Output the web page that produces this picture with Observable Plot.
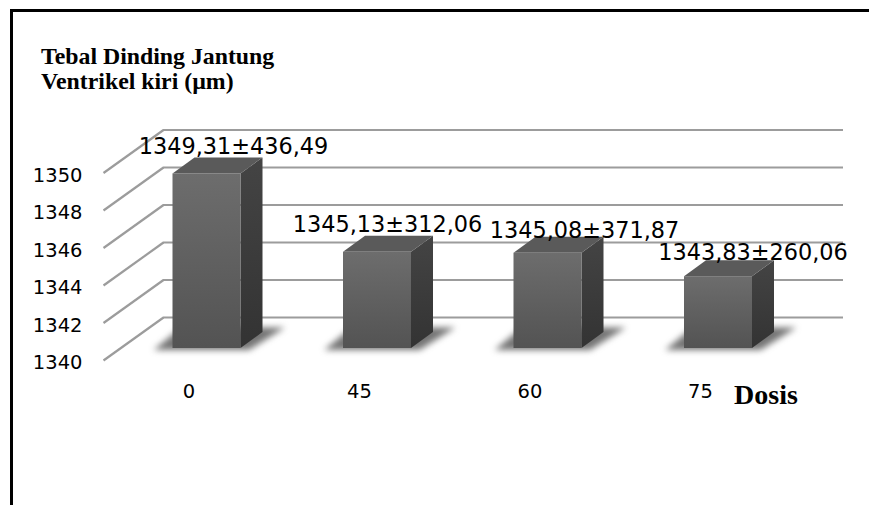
<!DOCTYPE html>
<html><head><meta charset="utf-8">
<script src="https://cdn.jsdelivr.net/npm/d3@7"></script>
<script src="https://cdn.jsdelivr.net/npm/@observablehq/plot@0.6"></script>
<style>
body{margin:0;background:#fff;}
#wrap{position:relative;width:869px;height:505px;overflow:hidden;background:#fff;}
#frame{position:absolute;left:10px;top:9px;width:880px;height:520px;border-top:3px solid #000;border-left:3px solid #000;}
#title{position:absolute;left:41px;top:44px;font-family:"Liberation Serif","Times New Roman",serif;font-weight:bold;font-size:23.8px;line-height:25px;color:#000;white-space:nowrap;}
#chart{position:absolute;left:0;top:0;}
</style></head><body>
<div id="wrap"><div id="frame"></div><div id="chart"></div><div id="title">Tebal Dinding Jantung<br>Ventrikel kiri (µm)</div></div>
<script>
// ---- data ----
const dosis = ["0", "45", "60", "75"];
const means = [1349.31, 1345.13, 1345.08, 1343.83];
const sds = [436.49, 312.06, 371.87, 260.06];
const yTicks = [1340, 1342, 1344, 1346, 1348, 1350];
const xTitle = "Dosis";

// ---- layout (pixel geometry of the pseudo-3D chart) ----
const X0 = 206.5, X3 = 718, Y0 = 348, Y10 = 160.5;
const PX = (X3 - X0) / 3, PY = (Y0 - Y10) / 10;
const hw = 34 / PX;                 // half bar width
const DX = 22 / PX, DY = 16 / PY;   // bar depth
const FX = -16.7 / PX, FY = -12 / PY;  // front wall plane
const BX = 43.3 / PX, BY = 31 / PY;    // back wall plane
const L = (119.7 - X0) / PX, R = (799.7 - X0) / PX;
const labelNudge = [[26.5, 20.4], [10, 20.8], [36.5, 15.1], [34.5, 16.2]];

const fmt = v => v.toFixed(2).replace(".", ",");
const bars = means.map((v, i) => ({i, v, dose: dosis[i], label: fmt(v) + "±" + fmt(sds[i])}));
const base = 1340;

const sidePts = bars.flatMap(d => [
  {bar: d.i, x: d.i + hw, y1: base, y2: d.v},
  {bar: d.i, x: d.i + hw + DX, y1: base + DY, y2: d.v + DY}
]);
const topPts = bars.flatMap(d => [
  {bar: d.i, y: d.v, x1: d.i - hw, x2: d.i + hw},
  {bar: d.i, y: d.v + DY, x1: d.i - hw + DX, x2: d.i + hw + DX}
]);
const shadowPts = bars.flatMap(d => [
  {bar: d.i, y: base - 0.1, x1: d.i - hw - 0.11, x2: d.i + hw + 0.05},
  {bar: d.i, y: base + 1.1, x1: d.i - hw + 0.05, x2: d.i + hw + 0.26}
]);

const plot = Plot.plot({
  width: 869, height: 505, margin: 0,
  style: {background: "transparent", fontFamily: "DejaVu Sans", color: "#000"},
  x: {type: "linear", domain: [0, 3], range: [X0, X3], axis: null},
  y: {type: "linear", domain: [1340, 1350], range: [Y0, Y10], axis: null},
  marks: [
    Plot.areaX(shadowPts, {y: "y", x1: "x1", x2: "x2", z: "bar", fill: "#464646", fillOpacity: 0.75}),
    Plot.ruleY(yTicks, {y: t => t + BY, x1: () => L + BX, x2: () => R + BX, stroke: "#9c9c9c", strokeWidth: 2.2}),
    Plot.link(yTicks, {x1: () => L + FX, y1: t => t + FY, x2: () => L + BX, y2: t => t + BY, stroke: "#9c9c9c", strokeWidth: 2.2}),
    Plot.areaY(sidePts, {x: "x", y1: "y1", y2: "y2", z: "bar", fill: "url(#gSide)"}),
    Plot.areaX(topPts, {y: "y", x1: "x1", x2: "x2", z: "bar", fill: "#5a5a5a"}),
    Plot.rect(bars, {x1: d => d.i - hw, x2: d => d.i + hw, y1: () => base, y2: d => d.v, fill: "url(#gFront)"}),
    Plot.text(yTicks, {x: () => L + FX, y: t => t + FY, text: t => String(t), textAnchor: "end", dx: -21, dy: 2.5, fontSize: 19.5, fill: "#000"}),
    Plot.text(bars, {x: "i", y: () => base, text: "dose", dx: -18, dy: 43.5, fontSize: 19.5, fill: "#000"}),
    Plot.text([xTitle], {x: () => 3, y: () => base, text: d => d, dx: 47.5, dy: 55, lineAnchor: "bottom", fontFamily: "Liberation Serif", fontWeight: "bold", fontSize: 28, fill: "#000"}),
    Plot.text(bars, {x: d => d.i + labelNudge[d.i][0] / PX, y: d => d.v + labelNudge[d.i][1] / PY, text: "label", lineAnchor: "bottom", fontSize: 22.4, fill: "#000"})
  ]
});

const svg = d3.select(plot);
const defs = svg.insert("defs", ":first-child");
const gf = defs.append("linearGradient").attr("id", "gFront").attr("x1", 0).attr("y1", 0).attr("x2", 0).attr("y2", 1);
gf.append("stop").attr("offset", "0%").attr("stop-color", "#6d6d6d");
gf.append("stop").attr("offset", "100%").attr("stop-color", "#535353");
const gs = defs.append("linearGradient").attr("id", "gSide").attr("x1", 0).attr("y1", 0).attr("x2", 0).attr("y2", 1);
gs.append("stop").attr("offset", "0%").attr("stop-color", "#444444");
gs.append("stop").attr("offset", "100%").attr("stop-color", "#333333");
svg.selectAll('g[fill="#464646"]').style("filter", "blur(3px)");

document.getElementById("chart").appendChild(plot);
</script>
</body></html>
